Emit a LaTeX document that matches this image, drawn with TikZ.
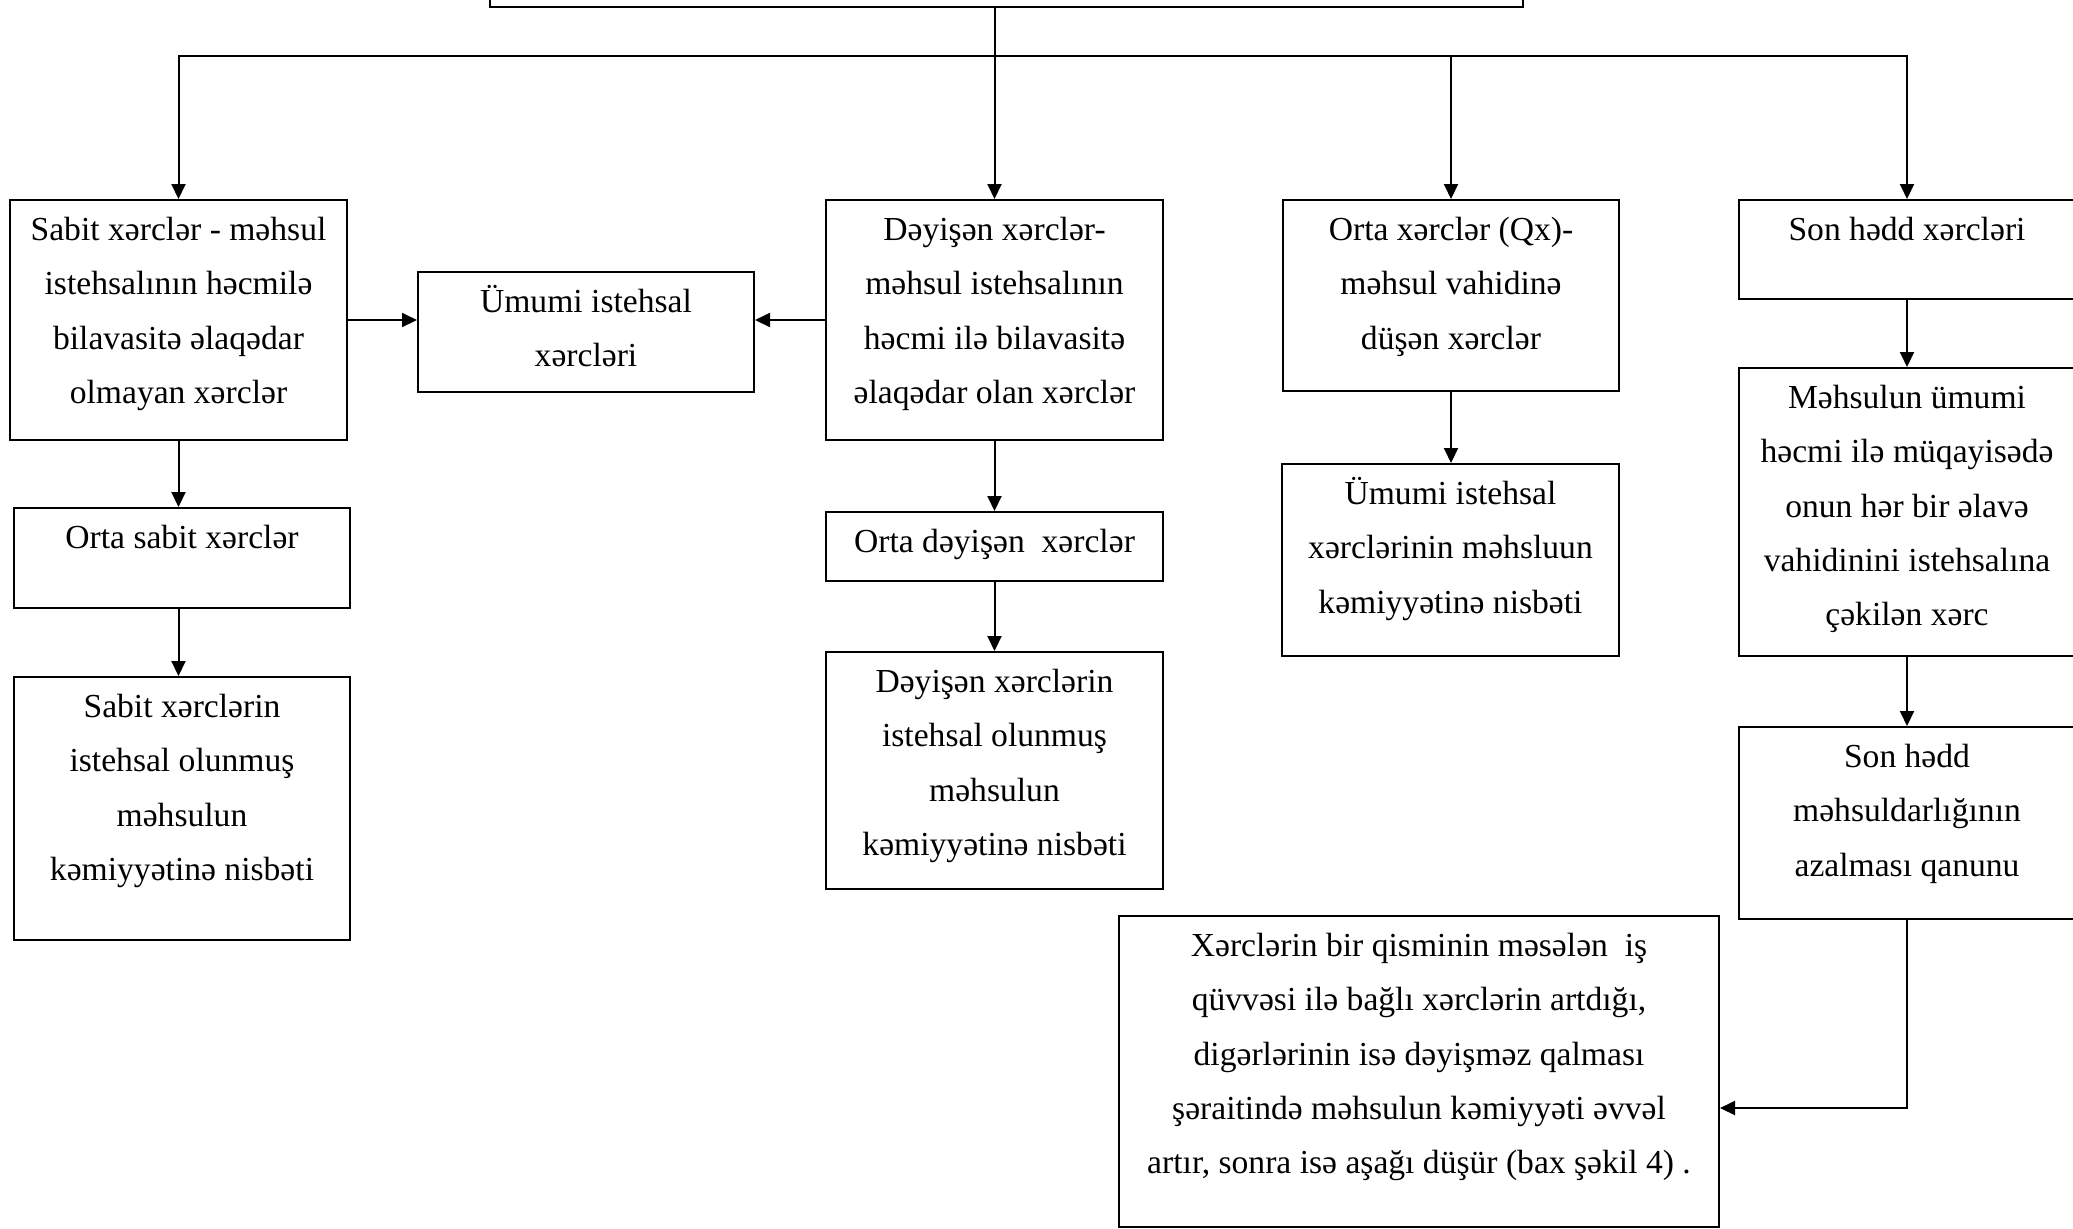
\documentclass[tikz,border=0pt]{standalone}
\usepackage{fontspec}
\setmainfont{Liberation Serif}
\usetikzlibrary{arrows.meta}
\tikzset{
 bx/.style={draw, line width=1pt, inner sep=0pt, rectangle},
 tx/.style={inner sep=0pt, anchor=north, align=center, font=\fontsize{16.8pt}{27.15pt}\selectfont},
 ln/.style={line width=1pt},
 arr/.style={ln, -{Triangle[length=7.5pt,width=7pt]}},
}
\newcommand\fr{\rule{0pt}{15pt}}
\begin{document}
\begin{tikzpicture}[x=0.5pt,y=-0.5pt]
\useasboundingbox (0,0) rectangle (2073,1228);
\clip (0,0) rectangle (2073,1228);
% boxes
\node[bx, minimum width=516.5pt, minimum height=28.5pt] (top) at (1006.5,-21.5) {};
\node[bx, minimum width=168.5pt, minimum height=120pt] (b1) at (178.5,320) {};
\node[bx, minimum width=168pt, minimum height=60pt] (um) at (586,332) {};
\node[bx, minimum width=168.5pt, minimum height=120pt] (dv) at (994.5,320) {};
\node[bx, minimum width=168pt, minimum height=95.5pt] (ox) at (1451,295.5) {};
\node[bx, minimum width=168pt, minimum height=49.5pt] (sh) at (1907,249.5) {};
\node[bx, minimum width=168pt, minimum height=50pt] (os) at (182,558) {};
\node[bx, minimum width=168pt, minimum height=131.5pt] (sx) at (182,808.5) {};
\node[bx, minimum width=168.5pt, minimum height=34.5pt] (od) at (994.5,546.5) {};
\node[bx, minimum width=168.5pt, minimum height=118.5pt] (dx) at (994.5,770.5) {};
\node[bx, minimum width=168.5pt, minimum height=96pt] (ux) at (1450.5,560) {};
\node[bx, minimum width=168pt, minimum height=144pt] (mh) at (1907,512) {};
\node[bx, minimum width=168pt, minimum height=96pt] (sl) at (1907,823) {};
\node[bx, minimum width=300pt, minimum height=155.5pt] (bx) at (1419,1071.5) {};
% texts
\node[tx] (t1) at (178.5,210) {\fr Sabit xərclər - məhsul\\ istehsalının həcmilə\\ bilavasitə əlaqədar\\ olmayan xərclər};
\node[tx] (tum) at (586,282) {\fr Ümumi istehsal\\ xərcləri};
\node[tx] (tdv) at (994.5,210) {\fr Dəyişən xərclər-\\ məhsul istehsalının\\ həcmi ilə bilavasitə\\ əlaqədar olan xərclər};
\node[tx] (tox) at (1451,210) {\fr Orta xərclər (Qx)-\\ məhsul vahidinə\\ düşən xərclər};
\node[tx] (tsh) at (1907,210) {\fr Son hədd xərcləri};
\node[tx] (tos) at (182,518) {\fr Orta sabit xərclər};
\node[tx] (tsx) at (182,687) {\fr Sabit xərclərin\\ istehsal olunmuş\\ məhsulun\\ kəmiyyətinə nisbəti};
\node[tx] (tod) at (994.5,522) {\fr Orta dəyişən\ \ xərclər};
\node[tx] (tdx) at (994.5,662) {\fr Dəyişən xərclərin\\ istehsal olunmuş\\ məhsulun\\ kəmiyyətinə nisbəti};
\node[tx] (tux) at (1450.5,474) {\fr Ümumi istehsal\\ xərclərinin məhsluun\\ kəmiyyətinə nisbəti};
\node[tx] (tmh) at (1907,378) {\fr Məhsulun ümumi\\ həcmi ilə müqayisədə\\ onun hər bir əlavə\\ vahidinini istehsalına\\ çəkilən xərc};
\node[tx] (tsl) at (1907,737) {\fr Son hədd\\ məhsuldarlığının\\ azalması qanunu};
\node[tx] (tbx) at (1419,926) {\fr Xərclərin bir qisminin məsələn\ \ iş\\ qüvvəsi ilə bağlı xərclərin artdığı,\\ digərlərinin isə dəyişməz qalması\\ şəraitində məhsulun kəmiyyəti əvvəl\\ artır, sonra isə aşağı düşür (bax şəkil 4) .};
% connectors
\coordinate (j) at (994.5,56);
\coordinate (k) at (1907,1108);
\draw[arr] (top.south -| dv.north) -- (dv.north);
\draw[arr] (j) -| (b1.north);
\draw[arr] (j) -| (sh.north);
\draw[arr] (ox.north |- j) -- (ox.north);
\draw[arr] (b1.east) -- (b1.east -| um.west);
\draw[arr] (dv.west) -- (dv.west -| um.east);
\draw[arr] (b1.south) -- (b1.south |- os.north);
\draw[arr] (os.south -| b1.south) -- (b1.south |- sx.north);
\draw[arr] (dv.south) -- (od.north);
\draw[arr] (od.south) -- (dx.north);
\draw[arr] (ox.south) -- (ox.south |- ux.north);
\draw[arr] (sh.south) -- (mh.north);
\draw[arr] (mh.south) -- (sl.north);
\draw[arr] (sl.south) |- (bx.east |- k);
\end{tikzpicture}
\end{document}
